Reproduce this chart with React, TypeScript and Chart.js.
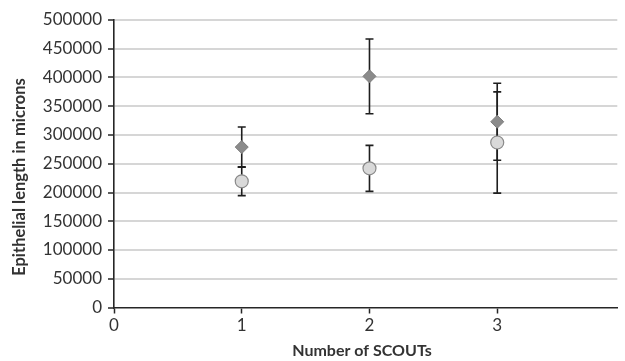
import React, { useEffect, useRef } from "react";
import { Chart, registerables } from "chart.js";

Chart.register(...registerables);

const categories = [1, 2, 3];
const diamondValues = [279000, 402000, 323000];
const diamondErrors = [35000, 65000, 67000];
const circleValues = [219500, 242000, 287000];
const circleErrors = [25000, 40000, 88000];
const yTicks = [0, 50000, 100000, 150000, 200000, 250000, 300000, 350000, 400000, 450000, 500000];
const xTicks = [0, 1, 2, 3];
const xTitle = "Number of SCOUTs";
const yTitle = "Epithelial length in microns";

const FONT = "Lato, 'Open Sans', sans-serif";

const errorBarPlugin = {
  id: "errorBars",
  beforeDatasetsDraw(chart: any) {
    const ctx = chart.ctx;
    const xs = chart.scales.x;
    const ys = chart.scales.y;
    ctx.save();
    ctx.strokeStyle = "#1e1e1e";
    ctx.lineWidth = 1.6;
    chart.data.datasets.forEach((ds: any) => {
      ds.data.forEach((p: any) => {
        const x = xs.getPixelForValue(p.x);
        const yTop = ys.getPixelForValue(p.y + p.err);
        const yBot = ys.getPixelForValue(p.y - p.err);
        ctx.beginPath();
        ctx.moveTo(x, yTop);
        ctx.lineTo(x, yBot);
        ctx.moveTo(x - 4, yTop);
        ctx.lineTo(x + 4, yTop);
        ctx.moveTo(x - 4, yBot);
        ctx.lineTo(x + 4, yBot);
        ctx.stroke();
      });
    });
    ctx.restore();
  },
};

const titlePlugin = {
  id: "axisTitles",
  afterDraw(chart: any) {
    const ctx = chart.ctx;
    ctx.save();
    ctx.fillStyle = "#333333";
    ctx.textAlign = "center";
    ctx.textBaseline = "middle";
    ctx.font = `bold 16px ${FONT}`;
    ctx.fillText(xTitle, 362, 351);
    ctx.font = `bold 16.5px ${FONT}`;
    ctx.translate(20, 177);
    ctx.rotate(-Math.PI / 2);
    ctx.fillText(yTitle, 0, 0);
    ctx.restore();
  },
};

export default function App() {
  const ref = useRef<HTMLCanvasElement>(null);
  useEffect(() => {
    if (!ref.current) return;
    const chart = new Chart(ref.current, {
      type: "scatter",
      data: {
        datasets: [
          {
            label: "diamond",
            data: categories.map((c, i) => ({ x: c, y: diamondValues[i], err: diamondErrors[i] })) as any,
            pointStyle: "rectRot",
            pointRadius: 6.5,
            backgroundColor: "#8b8b8b",
            borderColor: "#7d7d7d",
            borderWidth: 1,
          },
          {
            label: "circle",
            data: categories.map((c, i) => ({ x: c, y: circleValues[i], err: circleErrors[i] })) as any,
            pointStyle: "circle",
            pointRadius: 6.5,
            backgroundColor: "#d9d9d9",
            borderColor: "#8a8a8a",
            borderWidth: 1.2,
          },
        ],
      },
      options: {
        responsive: false,
        animation: false,
        layout: { padding: { top: 20, left: 0, right: 0, bottom: 0 } },
        plugins: { legend: { display: false }, tooltip: { enabled: false } },
        scales: {
          x: {
            type: "linear",
            min: 0,
            max: 3.94,
            afterBuildTicks: (s: any) => {
              s.ticks = xTicks.map((v) => ({ value: v }));
            },
            afterFit: (s: any) => {
              s.height = 53.5;
            },
            ticks: {
              color: "#333333",
              font: { family: FONT, size: 17 },
              padding: 2,
              maxRotation: 0,
            },
            grid: {
              drawOnChartArea: false,
              drawTicks: true,
              tickLength: 6,
              tickColor: "#262626",
              tickWidth: 1.5,
            },
            border: { color: "#262626", width: 1.6 },
          },
          y: {
            type: "linear",
            min: 0,
            max: 500000,
            afterBuildTicks: (s: any) => {
              s.ticks = yTicks.map((v) => ({ value: v }));
            },
            afterFit: (s: any) => {
              s.width = 114;
            },
            ticks: {
              color: "#333333",
              font: { family: FONT, size: 17 },
              padding: 6,
              callback: (v: any) => String(v),
            },
            grid: {
              color: (c: any) => (c.tick && c.tick.value === 0 ? "rgba(0,0,0,0)" : "#d6d6d6"),
              lineWidth: 2,
              drawTicks: true,
              tickLength: 6,
              tickColor: "#262626",
              tickWidth: 1.5,
            },
            border: { color: "#262626", width: 1.6 },
          },
        },
      },
      plugins: [errorBarPlugin, titlePlugin],
    });
    return () => chart.destroy();
  }, []);
  return (
    <div style={{ position: "fixed", left: 0, top: 0, width: 625, height: 361, background: "#fff" }}>
      <canvas ref={ref} width={625} height={361} />
    </div>
  );
}
